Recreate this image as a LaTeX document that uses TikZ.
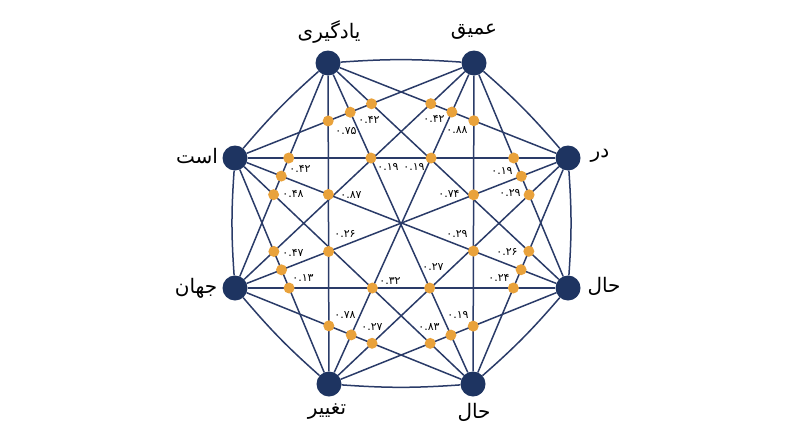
\documentclass[tikz,border=0pt]{standalone}
\usepackage{fontspec}
\newfontfamily\arabicfont[Script=Arabic]{DejaVu Sans}
\TeXXeTstate=1
\usetikzlibrary{backgrounds}
\definecolor{navy}{HTML}{1E3461}
\definecolor{edgec}{HTML}{2A3B68}
\definecolor{amber}{HTML}{E9A23B}
\begin{document}
\begin{tikzpicture}[x=1pt,y=-1pt,
  token/.style={circle,fill=navy,minimum size=25pt,inner sep=0pt},
  dot/.style={circle,fill=amber,minimum size=11pt,inner sep=0pt},
  word/.style={font=\arabicfont\fontsize{20}{22}\selectfont,text=black,inner sep=0pt},
  num/.style={font=\arabicfont\fontsize{11}{13}\selectfont,text=black,inner sep=0pt},
  link/.style={draw=edgec,line width=1.5pt},
  rim/.style={link,bend left=4}]
\useasboundingbox (0,0) rectangle (800,447);
% tokens
\node[token] (Y) at (328,63) {};
\node[token] (A) at (474,63) {};
\node[token] (D) at (568,158) {};
\node[token] (H) at (568,288) {};
\node[token] (B) at (473,384) {};
\node[token] (T) at (329,384) {};
\node[token] (J) at (235,288) {};
\node[token] (S) at (235,158) {};
% words
\node[word] (wY) at (329,32) {\beginR یادگیری\endR};
\node[word] (wA) at (474,32) {\beginR عمیق\endR};
\node[word] (wD) at (600,156) {\beginR در\endR};
\node[word] (wH) at (604,286) {\beginR حال\endR};
\node[word] (wB) at (474,412) {\beginR حال\endR};
\node[word] (wT) at (327,412) {\beginR تغییر\endR};
\node[word] (wJ) at (196,288) {\beginR جهان\endR};
\node[word] (wS) at (197,156) {\beginR است\endR};
% connectors
\begin{scope}[on background layer]
\draw[rim] (Y) to (A); \draw[rim] (A) to (D); \draw[rim] (D) to (H); \draw[rim] (H) to (B);
\draw[rim] (B) to (T); \draw[rim] (T) to (J); \draw[rim] (J) to (S); \draw[rim] (S) to (Y);
\draw[link] (Y) -- (D); \draw[link] (Y) -- (H); \draw[link] (Y) -- (B); \draw[link] (Y) -- (T); \draw[link] (Y) -- (J);
\draw[link] (A) -- (H); \draw[link] (A) -- (B); \draw[link] (A) -- (T); \draw[link] (A) -- (J); \draw[link] (A) -- (S);
\draw[link] (D) -- (B); \draw[link] (D) -- (T); \draw[link] (D) -- (J); \draw[link] (D) -- (S);
\draw[link] (H) -- (T); \draw[link] (H) -- (J); \draw[link] (H) -- (S);
\draw[link] (B) -- (J); \draw[link] (B) -- (S);
\draw[link] (T) -- (S);
\end{scope}
% crossing dots
\node[dot] (d1) at (intersection of S--A and Y--H) {};
\node[dot] (d2) at (intersection of S--A and Y--B) {};
\node[dot] (d3) at (intersection of S--A and Y--T) {};
\node[dot] (d4) at (intersection of Y--J and S--D) {};
\node[dot] (d5) at (intersection of Y--J and S--H) {};
\node[dot] (d6) at (intersection of Y--J and S--B) {};
\node[dot] (d7) at (intersection of Y--T and S--H) {};
\node[dot] (d8) at (intersection of S--D and Y--B) {};
\node[dot] (d9) at (intersection of S--D and A--T) {};
\node[dot] (d10) at (intersection of S--D and A--H) {};
\node[dot] (d11) at (intersection of A--H and D--J) {};
\node[dot] (d12) at (intersection of A--H and D--T) {};
\node[dot] (d13) at (intersection of A--B and D--J) {};
\node[dot] (d14) at (intersection of Y--D and A--J) {};
\node[dot] (d15) at (intersection of Y--D and A--T) {};
\node[dot] (d16) at (intersection of Y--D and A--B) {};
\node[dot] (d17) at (intersection of Y--T and D--J) {};
\node[dot] (d18) at (intersection of S--T and J--A) {};
\node[dot] (d19) at (intersection of S--T and J--D) {};
\node[dot] (d20) at (intersection of S--T and J--H) {};
\node[dot] (d21) at (intersection of J--H and T--A) {};
\node[dot] (d22) at (intersection of Y--T and J--B) {};
\node[dot] (d23) at (intersection of J--B and T--A) {};
\node[dot] (d24) at (intersection of J--B and T--D) {};
\node[dot] (d25) at (intersection of A--B and S--H) {};
\node[dot] (d26) at (intersection of D--B and H--Y) {};
\node[dot] (d27) at (intersection of D--B and H--S) {};
\node[dot] (d28) at (intersection of D--B and H--J) {};
\node[dot] (d29) at (intersection of H--J and B--Y) {};
\node[dot] (d30) at (intersection of A--B and H--T) {};
\node[dot] (d31) at (intersection of H--T and B--Y) {};
\node[dot] (d32) at (intersection of H--T and B--S) {};
% weights
\node[num] (n1) at (346,131) {۰.۷۵};
\node[num] (n2) at (369,120) {۰.۴۲};
\node[num] (n3) at (434,119) {۰.۴۲};
\node[num] (n4) at (457,130) {۰.۸۸};
\node[num] (n5) at (300,169) {۰.۴۲};
\node[num] (n6) at (293,194) {۰.۴۸};
\node[num] (n7) at (351,195) {۰.۸۷};
\node[num] (n8) at (388,167) {۰.۱۹};
\node[num] (n9) at (414,167) {۰.۱۹};
\node[num] (n10) at (449,194) {۰.۷۴};
\node[num] (n11) at (502,171) {۰.۱۹};
\node[num] (n12) at (510,193) {۰.۲۹};
\node[num] (n13) at (345,234) {۰.۲۶};
\node[num] (n14) at (293,253) {۰.۴۷};
\node[num] (n15) at (303,278) {۰.۱۳};
\node[num] (n16) at (390,281) {۰.۳۲};
\node[num] (n17) at (345,315) {۰.۷۸};
\node[num] (n18) at (372,327) {۰.۲۷};
\node[num] (n19) at (457,234) {۰.۲۹};
\node[num] (n20) at (507,252) {۰.۲۶};
\node[num] (n21) at (433,267) {۰.۲۷};
\node[num] (n22) at (499,278) {۰.۲۴};
\node[num] (n23) at (458,315) {۰.۱۹};
\node[num] (n24) at (429,327) {۰.۸۳};
\end{tikzpicture}
\end{document}
